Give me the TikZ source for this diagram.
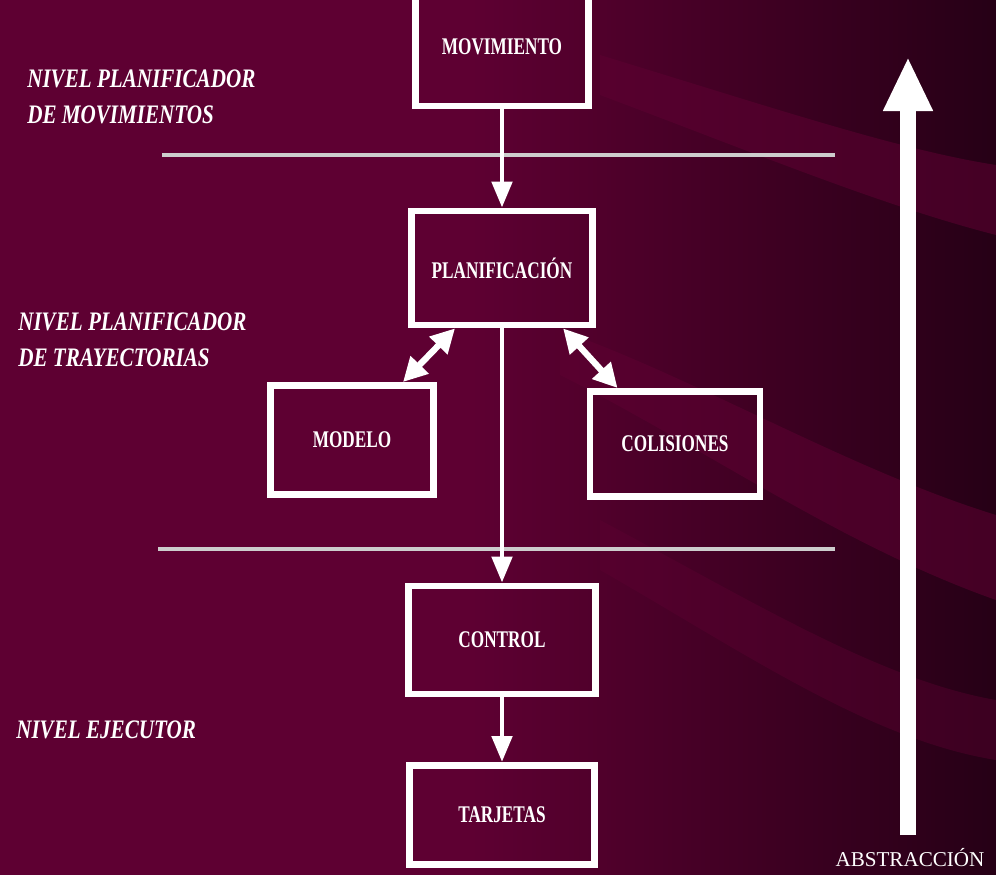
\documentclass[tikz,border=0pt]{standalone}
\usepackage{fontspec}
\setmainfont{Liberation Serif}
\newfontfamily\cajafont[FakeStretch=0.72]{Liberation Serif}
\newfontfamily\nivelfont[FakeStretch=0.79]{Liberation Serif}
\usetikzlibrary{arrows.meta,positioning,calc}
\definecolor{fondo}{RGB}{94,0,50}
\definecolor{fondoosc}{RGB}{38,0,22}
\definecolor{raya}{RGB}{205,205,205}

\begin{document}
\begin{tikzpicture}[x=0.025cm,y=-0.025cm,
   caja/.style={draw=white,line width=4.8pt,align=center,text=white,
                font=\cajafont\bfseries\fontsize{17}{17}\selectfont},
   nivel/.style={anchor=west,align=left,inner sep=0pt,text=white,
                 font=\nivelfont\bfseries\itshape\fontsize{19}{26}\selectfont},
   flecha/.style={draw=white,line width=3.5pt,-{Triangle[length=6.5mm,width=5mm]}},
   doble/.style={draw=white,line width=4.5pt,
                 {Triangle[length=6mm,width=6mm]}-{Triangle[length=6mm,width=6mm]}},
   grande/.style={draw=white,line width=11pt,-{Triangle[length=13.5mm,width=11.5mm]}},
   sep/.style={draw=raya,line width=3pt}]
  \useasboundingbox (0,0) rectangle (996,875);
  % fondo
  \fill[fondo] (0,0) rectangle (996,875);
  \shade[left color=fondo,right color=fondoosc] (470,0) rectangle (996,875);
  \fill[fondo,opacity=0.55] (600,55) .. controls (780,110) and (900,150) .. (996,165)
        -- (996,235) .. controls (880,205) and (760,155) .. (600,95) -- cycle;
  \fill[fondo,opacity=0.55] (560,330) .. controls (700,380) and (850,470) .. (996,515)
        -- (996,600) .. controls (840,545) and (700,445) .. (560,375) -- cycle;
  \fill[fondo,opacity=0.4] (600,520) .. controls (750,600) and (880,680) .. (996,700)
        -- (996,760) .. controls (870,740) and (740,650) .. (600,570) -- cycle;

  % niveles
  \node[nivel] (nmov) at (27,97) {NIVEL PLANIFICADOR\\DE MOVIMIENTOS};
  \node[nivel] (ntray) at (18,340) {NIVEL PLANIFICADOR\\DE TRAYECTORIAS};
  \node[nivel] (nejec) at (16,730) {NIVEL EJECUTOR};

  % separadores
  \coordinate (s1a) at (162,155); \coordinate (s1b) at (835,155);
  \coordinate (s2a) at (158,549); \coordinate (s2b) at (835,549);
  \draw[sep] (s1a) -- (s1b);
  \draw[sep] (s2a) -- (s2b);

  % cajas
  \node[caja,minimum width=4.33cm,minimum height=2.95cm] (mov) at (502,47) {MOVIMIENTO};
  \node[caja,minimum width=4.53cm,minimum height=2.85cm] (plan) at (502,268) {PLANIFICACIÓN};
  \node[caja,minimum width=4.08cm,minimum height=2.73cm] (modelo) at (352,440) {MODELO};
  \node[caja,minimum width=4.25cm,minimum height=2.63cm] (colis) at (675,444) {COLISIONES};
  \node[caja,minimum width=4.68cm,minimum height=2.7cm] (control) at (502,640) {CONTROL};
  \node[caja,minimum width=4.63cm,minimum height=2.48cm] (tarj) at (502,815) {TARJETAS};

  \draw[flecha] (mov) -- (plan);
  \draw[flecha] (plan) -- (control);
  \draw[flecha] (control) -- (tarj);
  \draw[doble] ($(plan.south)!0.5!(plan.south west)$) -- ($(modelo.north)!0.6!(modelo.north east)$);
  \draw[doble] ($(plan.south)!0.65!(plan.south east)$) -- ($(colis.north west)!0.35!(colis.north)$);

  % abstraccion
  \coordinate (abajo) at (908,835);
  \coordinate (arriba) at (908,57);
  \draw[grande] (abajo) -- (arriba);
  \node[text=white,font=\fontsize{15}{15}\selectfont] (abs) at (910,858) {ABSTRACCIÓN};
\end{tikzpicture}
\end{document}
